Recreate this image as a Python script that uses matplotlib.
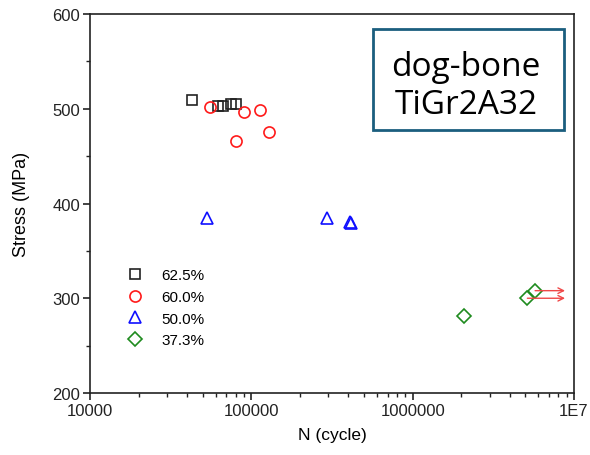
import matplotlib
matplotlib.use('Agg')
import matplotlib.pyplot as plt
from matplotlib.patches import Rectangle
from matplotlib.ticker import FixedLocator, LogLocator, MultipleLocator, NullFormatter

plt.rcParams['font.family'] = ['Liberation Sans', 'DejaVu Sans']

# fatigue data: cycles to failure vs stress amplitude, grouped by stress ratio
n_625 = [42900, 62200, 66800, 74800, 80400]
s_625 = [509, 503, 503, 505, 505]
n_600 = [55400, 90100, 113200, 128800, 80000]
s_600 = [501.5, 497, 499, 475, 466]
n_500 = [52900, 293500, 410000, 413000]
s_500 = [385, 385, 381, 379]
n_373 = [2092000, 5140000, 5740000]
s_373 = [281, 300, 308]

# run-outs (no failure) continue to this cycle count
runout_n = [5140000, 5740000]
runout_s = [300, 308]
runout_end = 8.8e6

xticks = [1e4, 1e5, 1e6, 1e7]
xtick_labels = ['10000', '100000', '1000000', '1E7']

fig = plt.figure(figsize=(5.9, 4.56), dpi=100)
ax = fig.add_axes([0.1525, 0.136, 0.8204, 0.831])

mk = dict(linestyle='none', markerfacecolor='none', markeredgewidth=1.2)
ax.plot(n_625, s_625, marker='s', markersize=7, color='#222222', label='62.5%', **mk)
ax.plot(n_600, s_600, marker='o', markersize=8, color='#FF1A1A', label='60.0%', **mk)
ax.plot(n_500, s_500, marker='^', markersize=8.5, color='#1010FF', label='50.0%', **mk)
ax.plot(n_373, s_373, marker='D', markersize=7, color='#1E8B1E', label='37.3%', **mk)

for n, s in zip(runout_n, runout_s):
    ax.annotate('', xy=(runout_end, s), xytext=(n, s),
                arrowprops=dict(arrowstyle='->', color='#F04848', lw=1.0,
                                shrinkA=0, shrinkB=0))

ax.set_xscale('log')
ax.set_xlim(1e4, 1e7)
ax.set_ylim(200, 600)
ax.xaxis.set_major_locator(FixedLocator(xticks))
ax.set_xticklabels(xtick_labels)
ax.xaxis.set_minor_locator(LogLocator(base=10, subs=range(2, 10)))
ax.xaxis.set_minor_formatter(NullFormatter())
ax.yaxis.set_major_locator(MultipleLocator(100))
ax.yaxis.set_minor_locator(MultipleLocator(50))

for side in ['left', 'bottom', 'top', 'right']:
    ax.spines[side].set_linewidth(1.2)
    ax.spines[side].set_color('#222222')
ax.tick_params(which='major', direction='out', length=5, width=1.2, labelsize=12,
               top=False, right=False, pad=2, colors='#222222')
ax.tick_params(which='minor', direction='out', length=3, width=1.0,
               top=False, right=False, colors='#222222')

ax.set_xlabel('N (cycle)', fontsize=12.5, labelpad=7)
ax.set_ylabel('Stress (MPa)', fontsize=13, labelpad=16)

leg = ax.legend(loc='upper left', bbox_to_anchor=(0.065, 0.345), frameon=False,
                fontsize=11, handletextpad=1.2, labelspacing=0.5,
                handlelength=1.0, borderaxespad=0)

# specimen label box
ax.add_patch(Rectangle((0.585, 0.694), 0.394, 0.266, transform=ax.transAxes,
                       facecolor='white', edgecolor='#1B5E7E', linewidth=2,
                       zorder=5))
ax.text(0.777, 0.812, 'dog-bone\nTiGr2A32', transform=ax.transAxes,
        ha='center', va='center', fontsize=24, family=['Open Sans', 'DejaVu Sans'],
        linespacing=1.22, zorder=6)

fig.savefig('out.png', dpi=100)
plt.close(fig)
